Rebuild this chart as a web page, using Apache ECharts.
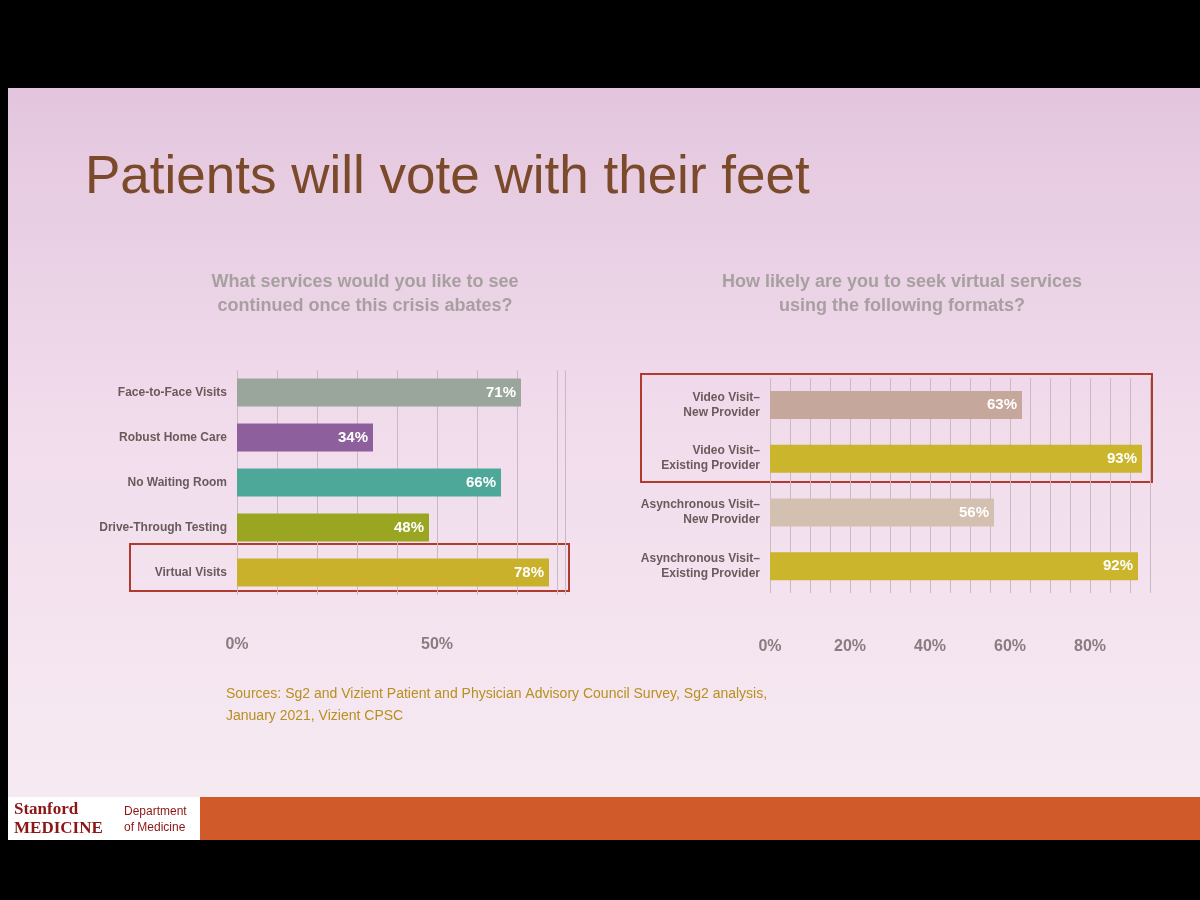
<!DOCTYPE html>
<html><head><meta charset="utf-8">
<script src="https://cdn.jsdelivr.net/npm/echarts@6/dist/echarts.min.js"></script>
<style>html,body{margin:0;background:#000}#c{width:1200px;height:900px}</style>
</head><body><div id="c"></div>
<script>
const leftCats = ['Face-to-Face Visits','Robust Home Care','No Waiting Room','Drive-Through Testing','Virtual Visits'];
const leftVals = [71,34,66,48,78];
const leftColors = ['#9aa59c','#8d5f9c','#4ea89a','#9aa622','#c9b12c'];
const rightCats = ['Video Visit–\nNew Provider','Video Visit–\nExisting Provider','Asynchronous Visit–\nNew Provider','Asynchronous Visit–\nExisting Provider'];
const rightVals = [63,93,56,92];
const rightColors = ['#c6a79b','#cbb52c','#d4c0b0','#cbb52c'];
const leftTicks = [0,50];
const rightTicks = [0,20,40,60,80];

const chart = echarts.init(document.getElementById('c'));
const lblFont = {color:'#6b5a5a',fontSize:12,fontFamily:'Liberation Sans',fontWeight:'bold'};
function bars(vals, colors, xi){
  return {type:'bar',xAxisIndex:xi,yAxisIndex:xi,barWidth:28,
    data:vals.map((v,i)=>({value:v,itemStyle:{color:colors[i]}})),
    label:{show:true,position:'insideRight',formatter:'{c}%',color:'#fff',fontSize:15,fontWeight:'bold',fontFamily:'Liberation Sans'}};
}
chart.setOption({
  backgroundColor:'#000',
  graphic:[
    {type:'rect',shape:{x:8,y:88,width:1192,height:752},style:{fill:new echarts.graphic.LinearGradient(0,0,0,1,[{offset:0,color:'#e3c6de'},{offset:0.45,color:'#f1dcec'},{offset:1,color:'#f7ecf3'}])},z:-10},
    {type:'rect',shape:{x:200,y:797,width:1000,height:43},style:{fill:'#d05a2a'},z:-9},
    {type:'rect',shape:{x:8,y:797,width:192,height:43},style:{fill:'#fff'},z:-9},
    {type:'text',left:14,top:800,style:{text:'Stanford\nMEDICINE',fill:'#8c1515',font:'bold 17px Liberation Serif',lineHeight:19}},
    {type:'text',left:124,top:804,style:{text:'Department\nof Medicine',fill:'#8c1515',font:'12px Liberation Sans',lineHeight:16}},
    {type:'text',left:85,top:152,style:{text:'Patients will vote with their feet',fill:'#7a4a2a',font:'53px Liberation Sans'}},
    {type:'text',style:{x:365,y:270,text:'What services would you like to see\ncontinued once this crisis abates?',fill:'#a8a0a0',font:'bold 18px Liberation Sans',textAlign:'center',lineHeight:24}},
    {type:'text',style:{x:902,y:270,text:'How likely are you to seek virtual services\nusing the following formats?',fill:'#a8a0a0',font:'bold 18px Liberation Sans',textAlign:'center',lineHeight:24}},
    {type:'text',left:226,top:683,style:{text:'Sources: Sg2 and Vizient Patient and Physician Advisory Council Survey, Sg2 analysis,\nJanuary 2021, Vizient CPSC',fill:'#b8901e',font:'14px Liberation Sans',lineHeight:22}},
    {type:'rect',shape:{x:130,y:544,width:439,height:47},style:{fill:'none',stroke:'#b03a2e',lineWidth:2}},
    {type:'rect',shape:{x:641,y:374,width:511,height:108},style:{fill:'none',stroke:'#b03a2e',lineWidth:2}}
  ],
  grid:[{left:237,width:328,top:370,height:225},{left:770,width:380,top:378,height:215}],
  xAxis:[
    {gridIndex:0,type:'value',min:0,max:82,interval:10,axisLine:{show:false},axisTick:{show:false},
     splitLine:{lineStyle:{color:'#c9b9c2'}},axisLabel:{margin:42,color:'#8a7c7e',fontSize:16,fontWeight:'bold',fontFamily:'Liberation Sans',
     customValues:leftTicks,formatter:v=>v+'%'}},
    {gridIndex:1,type:'value',min:0,max:95,interval:5,axisLine:{show:false},axisTick:{show:false},
     splitLine:{lineStyle:{color:'#c9b9c2'}},axisLabel:{margin:46,color:'#8a7c7e',fontSize:16,fontWeight:'bold',fontFamily:'Liberation Sans',
     formatter:v=>rightTicks.includes(v)?v+'%':''}}
  ],
  yAxis:[
    {gridIndex:0,type:'category',inverse:true,data:leftCats,axisLine:{show:false},axisTick:{show:false},axisLabel:Object.assign({margin:10},lblFont)},
    {gridIndex:1,type:'category',inverse:true,data:rightCats,axisLine:{show:false},axisTick:{show:false},axisLabel:Object.assign({margin:10,lineHeight:15,align:'right'},lblFont)}
  ],
  series:[bars(leftVals,leftColors,0),bars(rightVals,rightColors,1)]
});
</script></body></html>
